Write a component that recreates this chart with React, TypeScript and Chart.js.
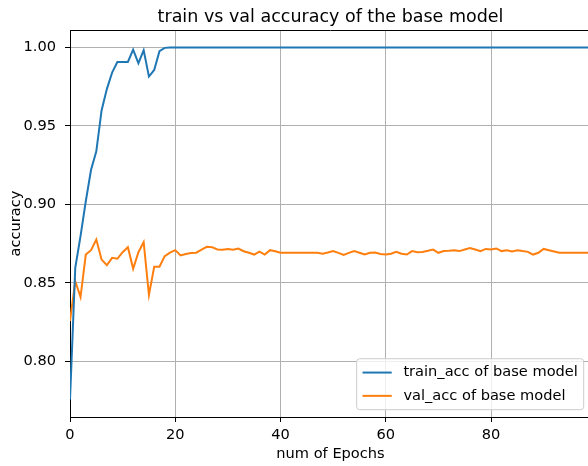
import React, { useEffect, useRef } from "react";
import { Chart, registerables } from "chart.js";

Chart.register(...registerables);

const TITLE = "train vs val accuracy of the base model";
const X_LABEL = "num of Epochs";
const Y_LABEL = "accuracy";
const SERIES_NAMES = ["train_acc of base model", "val_acc of base model"];
const SERIES_COLORS = ["#1f77b4", "#ff7f0e"];
const X_TICKS = [0, 20, 40, 60, 80];
const Y_TICKS = [0.8, 0.85, 0.9, 0.95, 1.0];
const X_RANGE = [0, 99];
const Y_RANGE = [0.7644, 1.0112];

const trainAcc = [
  0.7756, 0.8595, 0.8797, 0.902, 0.9221, 0.9338, 0.9599, 0.9735, 0.984, 0.9908,
  0.9908, 0.9908, 0.9987, 0.99, 0.9983, 0.9815, 0.9857, 0.9977, 0.9998, 1.0,
  1.0, 1.0, 1.0, 1.0, 1.0, 1.0, 1.0, 1.0, 1.0, 1.0,
  1.0, 1.0, 1.0, 1.0, 1.0, 1.0, 1.0, 1.0, 1.0, 1.0,
  1.0, 1.0, 1.0, 1.0, 1.0, 1.0, 1.0, 1.0, 1.0, 1.0,
  1.0, 1.0, 1.0, 1.0, 1.0, 1.0, 1.0, 1.0, 1.0, 1.0,
  1.0, 1.0, 1.0, 1.0, 1.0, 1.0, 1.0, 1.0, 1.0, 1.0,
  1.0, 1.0, 1.0, 1.0, 1.0, 1.0, 1.0, 1.0, 1.0, 1.0,
  1.0, 1.0, 1.0, 1.0, 1.0, 1.0, 1.0, 1.0, 1.0, 1.0,
  1.0, 1.0, 1.0, 1.0, 1.0, 1.0, 1.0, 1.0, 1.0, 1.0,
];

const valAcc = [
  0.8256, 0.851, 0.8409, 0.868, 0.8708, 0.8776, 0.8648, 0.8612, 0.8659, 0.8653,
  0.8695, 0.8727, 0.8589, 0.8695, 0.8759, 0.8422, 0.8602, 0.8602, 0.867, 0.8692,
  0.8708, 0.8674, 0.8684, 0.869, 0.8692, 0.8712, 0.8729, 0.8727, 0.8712, 0.871,
  0.8716, 0.871, 0.8718, 0.8701, 0.8691, 0.868, 0.8699, 0.868, 0.8708, 0.8701,
  0.8691, 0.8691, 0.8691, 0.8691, 0.8691, 0.8691, 0.8691, 0.8691, 0.8685, 0.8693,
  0.8702, 0.8691, 0.8678, 0.8691, 0.8702, 0.8691, 0.868, 0.8691, 0.8693, 0.8684,
  0.868, 0.8685, 0.8697, 0.8685, 0.868, 0.8702, 0.8695, 0.8697, 0.8704, 0.8712,
  0.8691, 0.8702, 0.8704, 0.8708, 0.8702, 0.8712, 0.8721, 0.8712, 0.8702, 0.8716,
  0.8712, 0.8719, 0.8702, 0.8708, 0.87, 0.8708, 0.8702, 0.8697, 0.868, 0.8691,
  0.8716, 0.8708, 0.87, 0.8691, 0.8691, 0.8691, 0.8691, 0.8691, 0.8691, 0.8691,
];

const FONT = "'DejaVu Sans', 'Liberation Sans', sans-serif";
const FS = 14.6;
const TITLE_FS = 17.5;

const decorPlugin = {
  id: "decor",
  afterDraw(chart: any) {
    const { ctx, chartArea: a } = chart;
    ctx.save();
    // top & right spines
    ctx.strokeStyle = "#000";
    ctx.lineWidth = 1;
    ctx.beginPath();
    ctx.moveTo(a.left, a.top + 0.5);
    ctx.lineTo(a.right, a.top + 0.5);
    ctx.lineTo(a.right, a.bottom);
    ctx.stroke();

    // title
    ctx.fillStyle = "#000";
    ctx.font = `${TITLE_FS}px ${FONT}`;
    ctx.textAlign = "center";
    ctx.textBaseline = "alphabetic";
    ctx.fillText(TITLE, (a.left + a.right) / 2, a.top - 8.3);

    // x label
    ctx.font = `${FS}px ${FONT}`;
    ctx.textBaseline = "middle";
    ctx.fillText(X_LABEL, (a.left + a.right) / 2, a.bottom + 37);

    // y label
    ctx.save();
    ctx.translate(16, (a.top + a.bottom) / 2);
    ctx.rotate(-Math.PI / 2);
    ctx.fillText(Y_LABEL, 0, 0);
    ctx.restore();

    // legend (lower right)
    const fs = FS;
    const borderPad = 0.4 * fs;
    const handleLen = 2.0 * fs;
    const handlePad = 0.8 * fs;
    const rowH = 16;
    const rowGap = 0.5 * fs;
    ctx.font = `${fs}px ${FONT}`;
    const textW = Math.max(...SERIES_NAMES.map((n) => ctx.measureText(n).width));
    const boxW = borderPad * 2 + handleLen + handlePad + textW;
    const boxH = borderPad * 2 + rowH * SERIES_NAMES.length + rowGap * (SERIES_NAMES.length - 1);
    const right = a.right - 0.5 * fs;
    const bottom = a.bottom - 0.5 * fs;
    const left = right - boxW;
    const top = bottom - boxH;
    const r = 3;
    ctx.beginPath();
    ctx.moveTo(left + r, top);
    ctx.lineTo(right - r, top);
    ctx.quadraticCurveTo(right, top, right, top + r);
    ctx.lineTo(right, bottom - r);
    ctx.quadraticCurveTo(right, bottom, right - r, bottom);
    ctx.lineTo(left + r, bottom);
    ctx.quadraticCurveTo(left, bottom, left, bottom - r);
    ctx.lineTo(left, top + r);
    ctx.quadraticCurveTo(left, top, left + r, top);
    ctx.closePath();
    ctx.fillStyle = "rgba(255,255,255,0.8)";
    ctx.fill();
    ctx.strokeStyle = "#cccccc";
    ctx.lineWidth = 1;
    ctx.stroke();

    SERIES_NAMES.forEach((name, i) => {
      const cy = top + borderPad + rowH / 2 + i * (rowH + rowGap);
      ctx.strokeStyle = SERIES_COLORS[i];
      ctx.lineWidth = 2;
      ctx.beginPath();
      ctx.moveTo(left + borderPad, cy);
      ctx.lineTo(left + borderPad + handleLen, cy);
      ctx.stroke();
      ctx.fillStyle = "#000";
      ctx.textAlign = "left";
      ctx.textBaseline = "middle";
      ctx.fillText(name, left + borderPad + handleLen + handlePad, cy);
    });
    ctx.restore();
  },
};

export default function App() {
  const canvasRef = useRef<HTMLCanvasElement | null>(null);

  useEffect(() => {
    document.body.style.margin = "0";
    const canvas = canvasRef.current;
    if (!canvas) return;
    const chart = new Chart(canvas, {
      type: "line",
      data: {
        datasets: [
          {
            label: SERIES_NAMES[0],
            data: trainAcc.map((v, i) => ({ x: i, y: v })),
            borderColor: SERIES_COLORS[0],
            backgroundColor: SERIES_COLORS[0],
            borderWidth: 2,
            pointRadius: 0,
            tension: 0,
            fill: false,
          },
          {
            label: SERIES_NAMES[1],
            data: valAcc.map((v, i) => ({ x: i, y: v })),
            borderColor: SERIES_COLORS[1],
            backgroundColor: SERIES_COLORS[1],
            borderWidth: 2,
            pointRadius: 0,
            tension: 0,
            fill: false,
          },
        ],
      },
      options: {
        responsive: false,
        animation: false,
        devicePixelRatio: 1,
        layout: { padding: { top: 30, right: 9, left: 0, bottom: 0 } },
        plugins: {
          legend: { display: false },
          title: { display: false },
          tooltip: { enabled: false },
        },
        scales: {
          x: {
            type: "linear",
            min: X_RANGE[0],
            max: X_RANGE[1],
            afterBuildTicks: (scale: any) => {
              scale.ticks = X_TICKS.map((v) => ({ value: v }));
            },
            afterFit: (scale: any) => {
              scale.height = 49;
            },
            grid: {
              color: "#b0b0b0",
              lineWidth: 1,
              tickColor: "#000",
              tickLength: 5,
              drawTicks: true,
            },
            border: { color: "#000", width: 1 },
            ticks: {
              padding: 4,
              color: "#000",
              maxRotation: 0,
              autoSkip: false,
              font: { family: FONT, size: FS },
              callback: (v: any) => String(v),
            },
          },
          y: {
            type: "linear",
            min: Y_RANGE[0],
            max: Y_RANGE[1],
            afterBuildTicks: (scale: any) => {
              scale.ticks = Y_TICKS.map((v) => ({ value: v }));
            },
            afterFit: (scale: any) => {
              scale.width = 70;
            },
            grid: {
              color: "#b0b0b0",
              lineWidth: 1,
              tickColor: "#000",
              tickLength: 5,
              drawTicks: true,
            },
            border: { color: "#000", width: 1 },
            ticks: {
              padding: 9,
              color: "#000",
              autoSkip: false,
              font: { family: FONT, size: FS },
              callback: (v: any) => Number(v).toFixed(2),
            },
          },
        },
      },
      plugins: [decorPlugin],
    } as any);
    return () => chart.destroy();
  }, []);

  return (
    <div
      style={{
        position: "fixed",
        left: 0,
        top: 0,
        width: 588,
        height: 466,
        overflow: "hidden",
        background: "#fff",
      }}
    >
      <canvas ref={canvasRef} width={600} height={466} style={{ display: "block" }} />
    </div>
  );
}
